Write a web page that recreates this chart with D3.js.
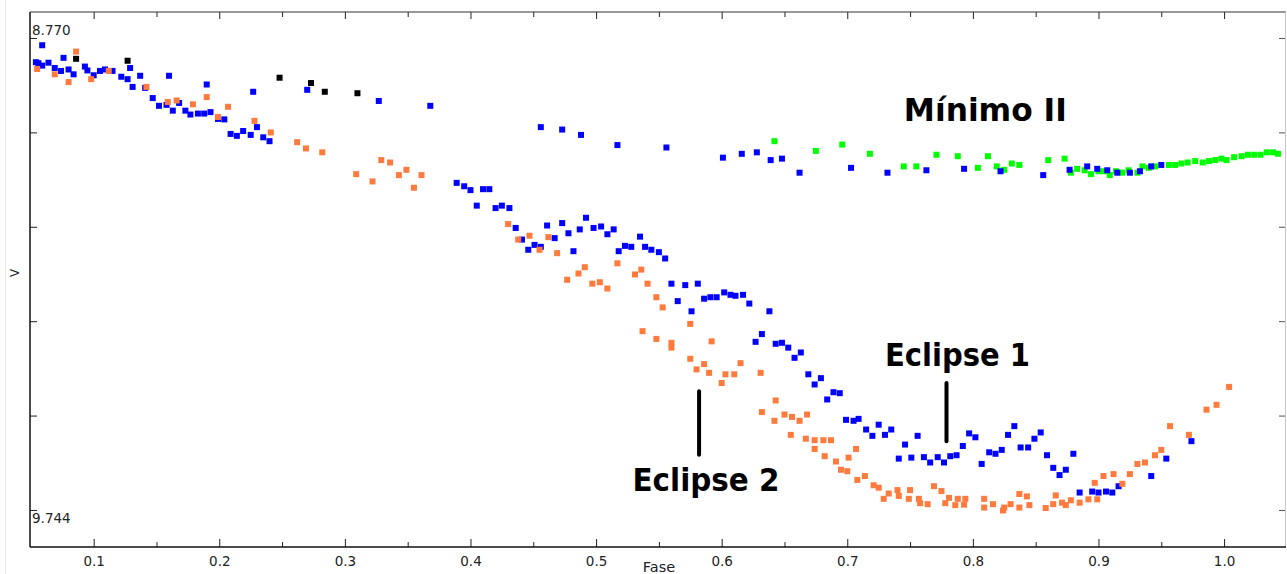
<!DOCTYPE html>
<html>
<head>
<meta charset="utf-8" />
<title>Fase - V</title>
<script src="https://cdnjs.cloudflare.com/ajax/libs/d3/7.8.5/d3.min.js"></script>
<style>
  body { margin: 0; background: #fff; }
  .axis text { font-family: "DejaVu Sans", sans-serif; font-size: 13.5px; fill: #222; }
  .axis line { stroke: #222; }
  .note { font-family: "DejaVu Sans Condensed", "DejaVu Sans", sans-serif; font-weight: bold; font-stretch: condensed; font-size: 32px; fill: #000; }
</style>
</head>
<body>
<div id="graph"></div>
<script>
// [fase, V]
var blueData = [
  [0.054,8.820],[0.056,8.822],[0.059,8.785],[0.059,8.827],[0.064,8.821],[0.069,8.832],[0.074,8.838],[0.076,8.811],
  [0.080,8.835],[0.084,8.845],[0.093,8.829],[0.095,8.837],[0.100,8.847],[0.105,8.838],[0.109,8.835],[0.115,8.838],
  [0.122,8.850],[0.127,8.855],[0.129,8.832],[0.131,8.871],[0.137,8.848],[0.141,8.873],[0.147,8.894],[0.152,8.910],
  [0.158,8.908],[0.160,8.848],[0.163,8.920],[0.168,8.904],[0.173,8.920],[0.177,8.928],[0.183,8.926],[0.188,8.926],
  [0.190,8.866],[0.193,8.923],[0.199,8.937],[0.204,8.938],[0.209,8.968],[0.214,8.972],[0.219,8.962],[0.225,8.970],
  [0.227,8.881],[0.230,8.954],[0.235,8.975],[0.240,8.983],[0.270,8.877],[0.327,8.900],[0.368,8.910],
  [0.389,9.069],[0.395,9.076],[0.400,9.084],[0.405,9.116],[0.410,9.082],[0.415,9.082],[0.420,9.121],[0.425,9.116],
  [0.431,9.121],[0.436,9.162],[0.441,9.186],[0.446,9.207],[0.451,9.197],[0.456,9.201],[0.456,8.954],[0.461,9.157],
  [0.467,9.183],[0.473,9.152],[0.473,8.959],[0.478,9.173],[0.482,9.210],[0.487,9.165],[0.488,8.970],[0.492,9.141],
  [0.498,9.162],[0.504,9.159],[0.509,9.175],[0.514,9.165],[0.517,8.991],[0.518,9.210],[0.523,9.199],[0.528,9.201],
  [0.535,9.180],[0.539,9.201],[0.544,9.207],[0.550,9.212],[0.555,9.225],[0.556,8.996],[0.560,9.277],[0.565,9.313],
  [0.571,9.280],[0.576,9.334],[0.581,9.277],[0.586,9.308],[0.591,9.305],[0.596,9.305],[0.601,9.017],[0.602,9.295],
  [0.607,9.300],[0.611,9.302],[0.616,9.009],[0.617,9.300],[0.622,9.318],[0.627,9.397],[0.628,9.006],[0.632,9.381],
  [0.638,9.334],[0.639,9.022],[0.643,9.401],[0.648,9.019],[0.648,9.399],[0.653,9.409],[0.658,9.430],[0.662,9.048],
  [0.663,9.419],[0.669,9.464],[0.674,9.485],[0.679,9.472],[0.684,9.516],[0.689,9.501],[0.694,9.503],[0.699,9.558],
  [0.703,9.038],[0.705,9.560],[0.709,9.556],[0.715,9.578],[0.720,9.591],[0.725,9.568],[0.730,9.589],[0.732,9.048],
  [0.735,9.578],[0.741,9.638],[0.746,9.609],[0.751,9.636],[0.756,9.591],[0.761,9.635],[0.763,9.043],[0.766,9.646],
  [0.772,9.635],[0.777,9.646],[0.782,9.633],[0.787,9.631],[0.792,9.612],[0.793,9.040],[0.797,9.586],[0.802,9.594],
  [0.807,9.649],[0.813,9.625],[0.818,9.628],[0.822,9.045],[0.823,9.620],[0.828,9.589],[0.833,9.571],[0.838,9.615],
  [0.844,9.615],[0.849,9.597],[0.854,9.584],[0.856,9.053],[0.859,9.631],[0.864,9.657],[0.869,9.672],[0.874,9.661],
  [0.877,9.042],[0.880,9.628],[0.885,9.708],[0.891,9.035],[0.895,9.706],[0.899,9.040],[0.900,9.708],[0.906,9.706],
  [0.907,9.043],[0.911,9.708],[0.915,9.048],[0.916,9.695],[0.925,9.048],[0.933,9.045],[0.942,9.674],[0.942,9.035],
  [0.950,9.032],[0.954,9.638],[0.974,9.602]
];

var orangeData = [
  [0.055,8.834],[0.069,8.845],[0.080,8.861],[0.086,8.798],[0.098,8.855],[0.112,8.838],[0.142,8.871],[0.159,8.902],
  [0.166,8.899],[0.179,8.907],[0.190,8.892],[0.199,8.933],[0.207,8.912],[0.228,8.941],[0.241,8.965],[0.262,8.985],
  [0.269,8.998],[0.282,9.006],[0.309,9.051],[0.322,9.066],[0.329,9.022],[0.336,9.027],[0.343,9.053],[0.349,9.042],
  [0.355,9.079],[0.361,9.053],[0.430,9.154],[0.438,9.186],[0.447,9.178],[0.455,9.207],[0.462,9.181],[0.469,9.214],
  [0.477,9.269],[0.486,9.256],[0.491,9.243],[0.497,9.277],[0.503,9.274],[0.509,9.287],[0.517,9.235],[0.531,9.258],
  [0.536,9.248],[0.537,9.375],[0.541,9.277],[0.548,9.305],[0.548,9.391],[0.553,9.326],[0.560,9.399],[0.560,9.409],
  [0.575,9.360],[0.575,9.432],[0.580,9.454],[0.586,9.443],[0.590,9.461],[0.592,9.396],[0.600,9.482],[0.603,9.464],
  [0.610,9.464],[0.615,9.441],[0.631,9.461],[0.632,9.542],[0.642,9.560],[0.643,9.518],[0.650,9.547],[0.655,9.589],
  [0.656,9.552],[0.662,9.560],[0.667,9.597],[0.668,9.547],[0.674,9.600],[0.674,9.618],[0.681,9.600],[0.682,9.633],
  [0.687,9.600],[0.691,9.644],[0.695,9.661],[0.700,9.664],[0.701,9.636],[0.707,9.618],[0.708,9.682],[0.714,9.674],
  [0.721,9.693],[0.725,9.698],[0.729,9.721],[0.733,9.710],[0.740,9.703],[0.741,9.715],[0.749,9.721],[0.750,9.703],
  [0.757,9.721],[0.758,9.730],[0.764,9.732],[0.769,9.695],[0.775,9.705],[0.778,9.730],[0.781,9.719],[0.786,9.734],
  [0.788,9.721],[0.793,9.733],[0.794,9.721],[0.809,9.721],[0.809,9.739],[0.816,9.732],[0.824,9.745],[0.825,9.739],
  [0.830,9.732],[0.837,9.711],[0.837,9.739],[0.843,9.716],[0.845,9.734],[0.858,9.740],[0.864,9.732],[0.866,9.714],
  [0.871,9.729],[0.874,9.734],[0.878,9.724],[0.885,9.729],[0.892,9.722],[0.897,9.688],[0.899,9.722],[0.904,9.674],
  [0.912,9.670],[0.919,9.690],[0.925,9.670],[0.931,9.649],[0.937,9.646],[0.945,9.631],[0.950,9.620],[0.957,9.571],
  [0.972,9.589],[0.986,9.537],[0.994,9.527],[1.004,9.490]
];

var greenData = [
  [0.642,8.983],[0.675,9.003],[0.696,8.990],[0.718,9.009],[0.745,9.035],[0.755,9.035],[0.771,9.011],[0.788,9.014],
  [0.804,9.038],[0.812,9.014],[0.819,9.035],[0.825,9.042],[0.831,9.029],[0.837,9.032],[0.860,9.022],[0.873,9.019],
  [0.878,9.048],[0.883,9.040],[0.889,9.043],[0.894,9.051],[0.900,9.045],[0.904,9.045],[0.909,9.053],[0.914,9.045],
  [0.919,9.048],[0.924,9.043],[0.931,9.048],[0.935,9.035],[0.940,9.038],[0.945,9.035],[0.956,9.032],[0.961,9.032],
  [0.966,9.029],[0.971,9.027],[0.977,9.024],[0.983,9.027],[0.988,9.024],[0.993,9.022],[0.998,9.019],[1.002,9.022],
  [1.008,9.016],[1.014,9.014],[1.019,9.011],[1.024,9.011],[1.029,9.011],[1.034,9.006],[1.039,9.006],[1.043,9.009]
];

var blackData = [
  [0.086,8.813],[0.127,8.817],[0.248,8.852],[0.273,8.863],[0.284,8.881],[0.310,8.884]
];

var xMajor = [0.1, 0.2, 0.3, 0.4, 0.5, 0.6, 0.7, 0.8, 0.9, 1.0];
var xMinor = [0.15, 0.25, 0.35, 0.45, 0.55, 0.65, 0.75, 0.85, 0.95];
var yTicks = [8.770, 8.9648, 9.1596, 9.3544, 9.5492, 9.744];
var yLabels = ["8.770", "9.744"];

// annotations: text, fase, V (baseline)
var notes = [
  ["Mínimo II", 0.745, 8.941, 163],
  ["Eclipse 1", 0.730, 9.447, 145],
  ["Eclipse 2", 0.529, 9.705, 147]
];
// marker lines: fase, V from, V to
var marks = [
  [0.582, 9.499, 9.630],
  [0.779, 9.482, 9.602]
];

var width = 1287, height = 574;
var marginLeft = 30, marginRight = 1, marginTop = 12, marginBottom = 27;

var x = d3.scaleLinear().domain([0.0493, 1.0493]).range([marginLeft, width - marginRight]);
var y = d3.scaleLinear().domain([8.7164, 9.8204]).range([marginTop, height - marginBottom]);

var svg = d3.select("#graph").append("svg")
    .attr("width", width)
    .attr("height", height);

// faint window edge
svg.append("line")
    .attr("x1", 5.5).attr("x2", 5.5).attr("y1", 0).attr("y2", height)
    .style("stroke", "#ececec");

// ticks
svg.append("g").attr("class", "axis")
    .attr("transform", "translate(0," + (height - marginBottom) + ")")
    .call(d3.axisBottom(x).tickValues(xMajor).tickSize(-8).tickPadding(9).tickFormat(d3.format(".1f")))
    .call(g => g.select(".domain").remove());
svg.append("g").attr("class", "axis")
    .attr("transform", "translate(0," + (height - marginBottom) + ")")
    .call(d3.axisBottom(x).tickValues(xMinor).tickSize(-5).tickFormat(""))
    .call(g => g.select(".domain").remove());
svg.append("g").attr("class", "axis")
    .attr("transform", "translate(0," + marginTop + ")")
    .call(d3.axisTop(x).tickValues(xMajor).tickSize(-7).tickFormat(""))
    .call(g => g.select(".domain").remove());
svg.append("g").attr("class", "axis")
    .attr("transform", "translate(0," + marginTop + ")")
    .call(d3.axisTop(x).tickValues(xMinor).tickSize(-5).tickFormat(""))
    .call(g => g.select(".domain").remove());
svg.append("g").attr("class", "axis")
    .attr("transform", "translate(" + marginLeft + ",0)")
    .call(d3.axisLeft(y).tickValues(yTicks).tickSize(-7).tickFormat(""))
    .call(g => g.select(".domain").remove());
svg.append("g").attr("class", "axis")
    .attr("transform", "translate(" + (width - marginRight) + ",0)")
    .call(d3.axisRight(y).tickValues(yTicks).tickSize(-7).tickFormat(""))
    .call(g => g.selectAll("line").style("stroke", "#555"))
    .call(g => g.select(".domain").remove());

// y labels (only ends)
svg.append("text").attr("class", "axis")
    .attr("x", marginLeft + 2).attr("y", y(8.770) - 3)
    .style("font-family", "DejaVu Sans, sans-serif").style("font-size", "13.5px").style("fill", "#222")
    .text(yLabels[0]);
svg.append("text")
    .attr("x", marginLeft + 2).attr("y", y(9.744) + 13)
    .style("font-family", "DejaVu Sans, sans-serif").style("font-size", "13.5px").style("fill", "#222")
    .text(yLabels[1]);

// frame
var x0 = marginLeft, x1 = width - marginRight, y0 = marginTop, y1 = height - marginBottom;
svg.append("line").attr("x1", x0).attr("x2", x1).attr("y1", y0).attr("y2", y0).style("stroke", "#333").style("stroke-width", 1.2);
svg.append("line").attr("x1", x1 - 0.5).attr("x2", x1 - 0.5).attr("y1", y0).attr("y2", y1).style("stroke", "#c8c8c8");
svg.append("line").attr("x1", x0).attr("x2", x1).attr("y1", y1).attr("y2", y1).style("stroke", "#111").style("stroke-width", 1.5);
svg.append("line").attr("x1", x0).attr("x2", x0).attr("y1", y0).attr("y2", y1).style("stroke", "#111").style("stroke-width", 1.5);

// axis titles
svg.append("text")
    .attr("x", 659).attr("y", 572)
    .attr("text-anchor", "middle")
    .style("font-family", "DejaVu Sans, sans-serif").style("font-size", "14.5px").style("fill", "#222")
    .text("Fase");
svg.append("text")
    .attr("transform", "translate(19,273) rotate(-90)")
    .attr("text-anchor", "middle")
    .style("font-family", "DejaVu Sans, sans-serif").style("font-size", "12px").style("fill", "#222")
    .text("V");

// points
function drawSeries(data, color) {
  svg.append("g").selectAll("rect")
    .data(data)
    .enter().append("rect")
      .attr("x", d => x(d[0]) - 3)
      .attr("y", d => y(d[1]) - 3)
      .attr("width", 6)
      .attr("height", 6)
      .style("fill", color);
}
drawSeries(blackData, "#000000");
drawSeries(greenData, "#00ff00");
drawSeries(blueData, "#0000ff");
drawSeries(orangeData, "#ff7a3d");

// annotations
svg.selectAll(".mark")
  .data(marks)
  .enter().append("line")
    .attr("class", "mark")
    .attr("x1", d => x(d[0])).attr("x2", d => x(d[0]))
    .attr("y1", d => y(d[1])).attr("y2", d => y(d[2]))
    .style("stroke", "#000").style("stroke-width", 4).style("stroke-linecap", "round");

svg.selectAll(".note")
  .data(notes)
  .enter().append("text")
    .attr("class", "note")
    .attr("x", d => x(d[1])).attr("y", d => y(d[2]))
    .attr("textLength", d => d[3])
    .attr("lengthAdjust", "spacingAndGlyphs")
    .text(d => d[0]);
</script>
</body>
</html>
